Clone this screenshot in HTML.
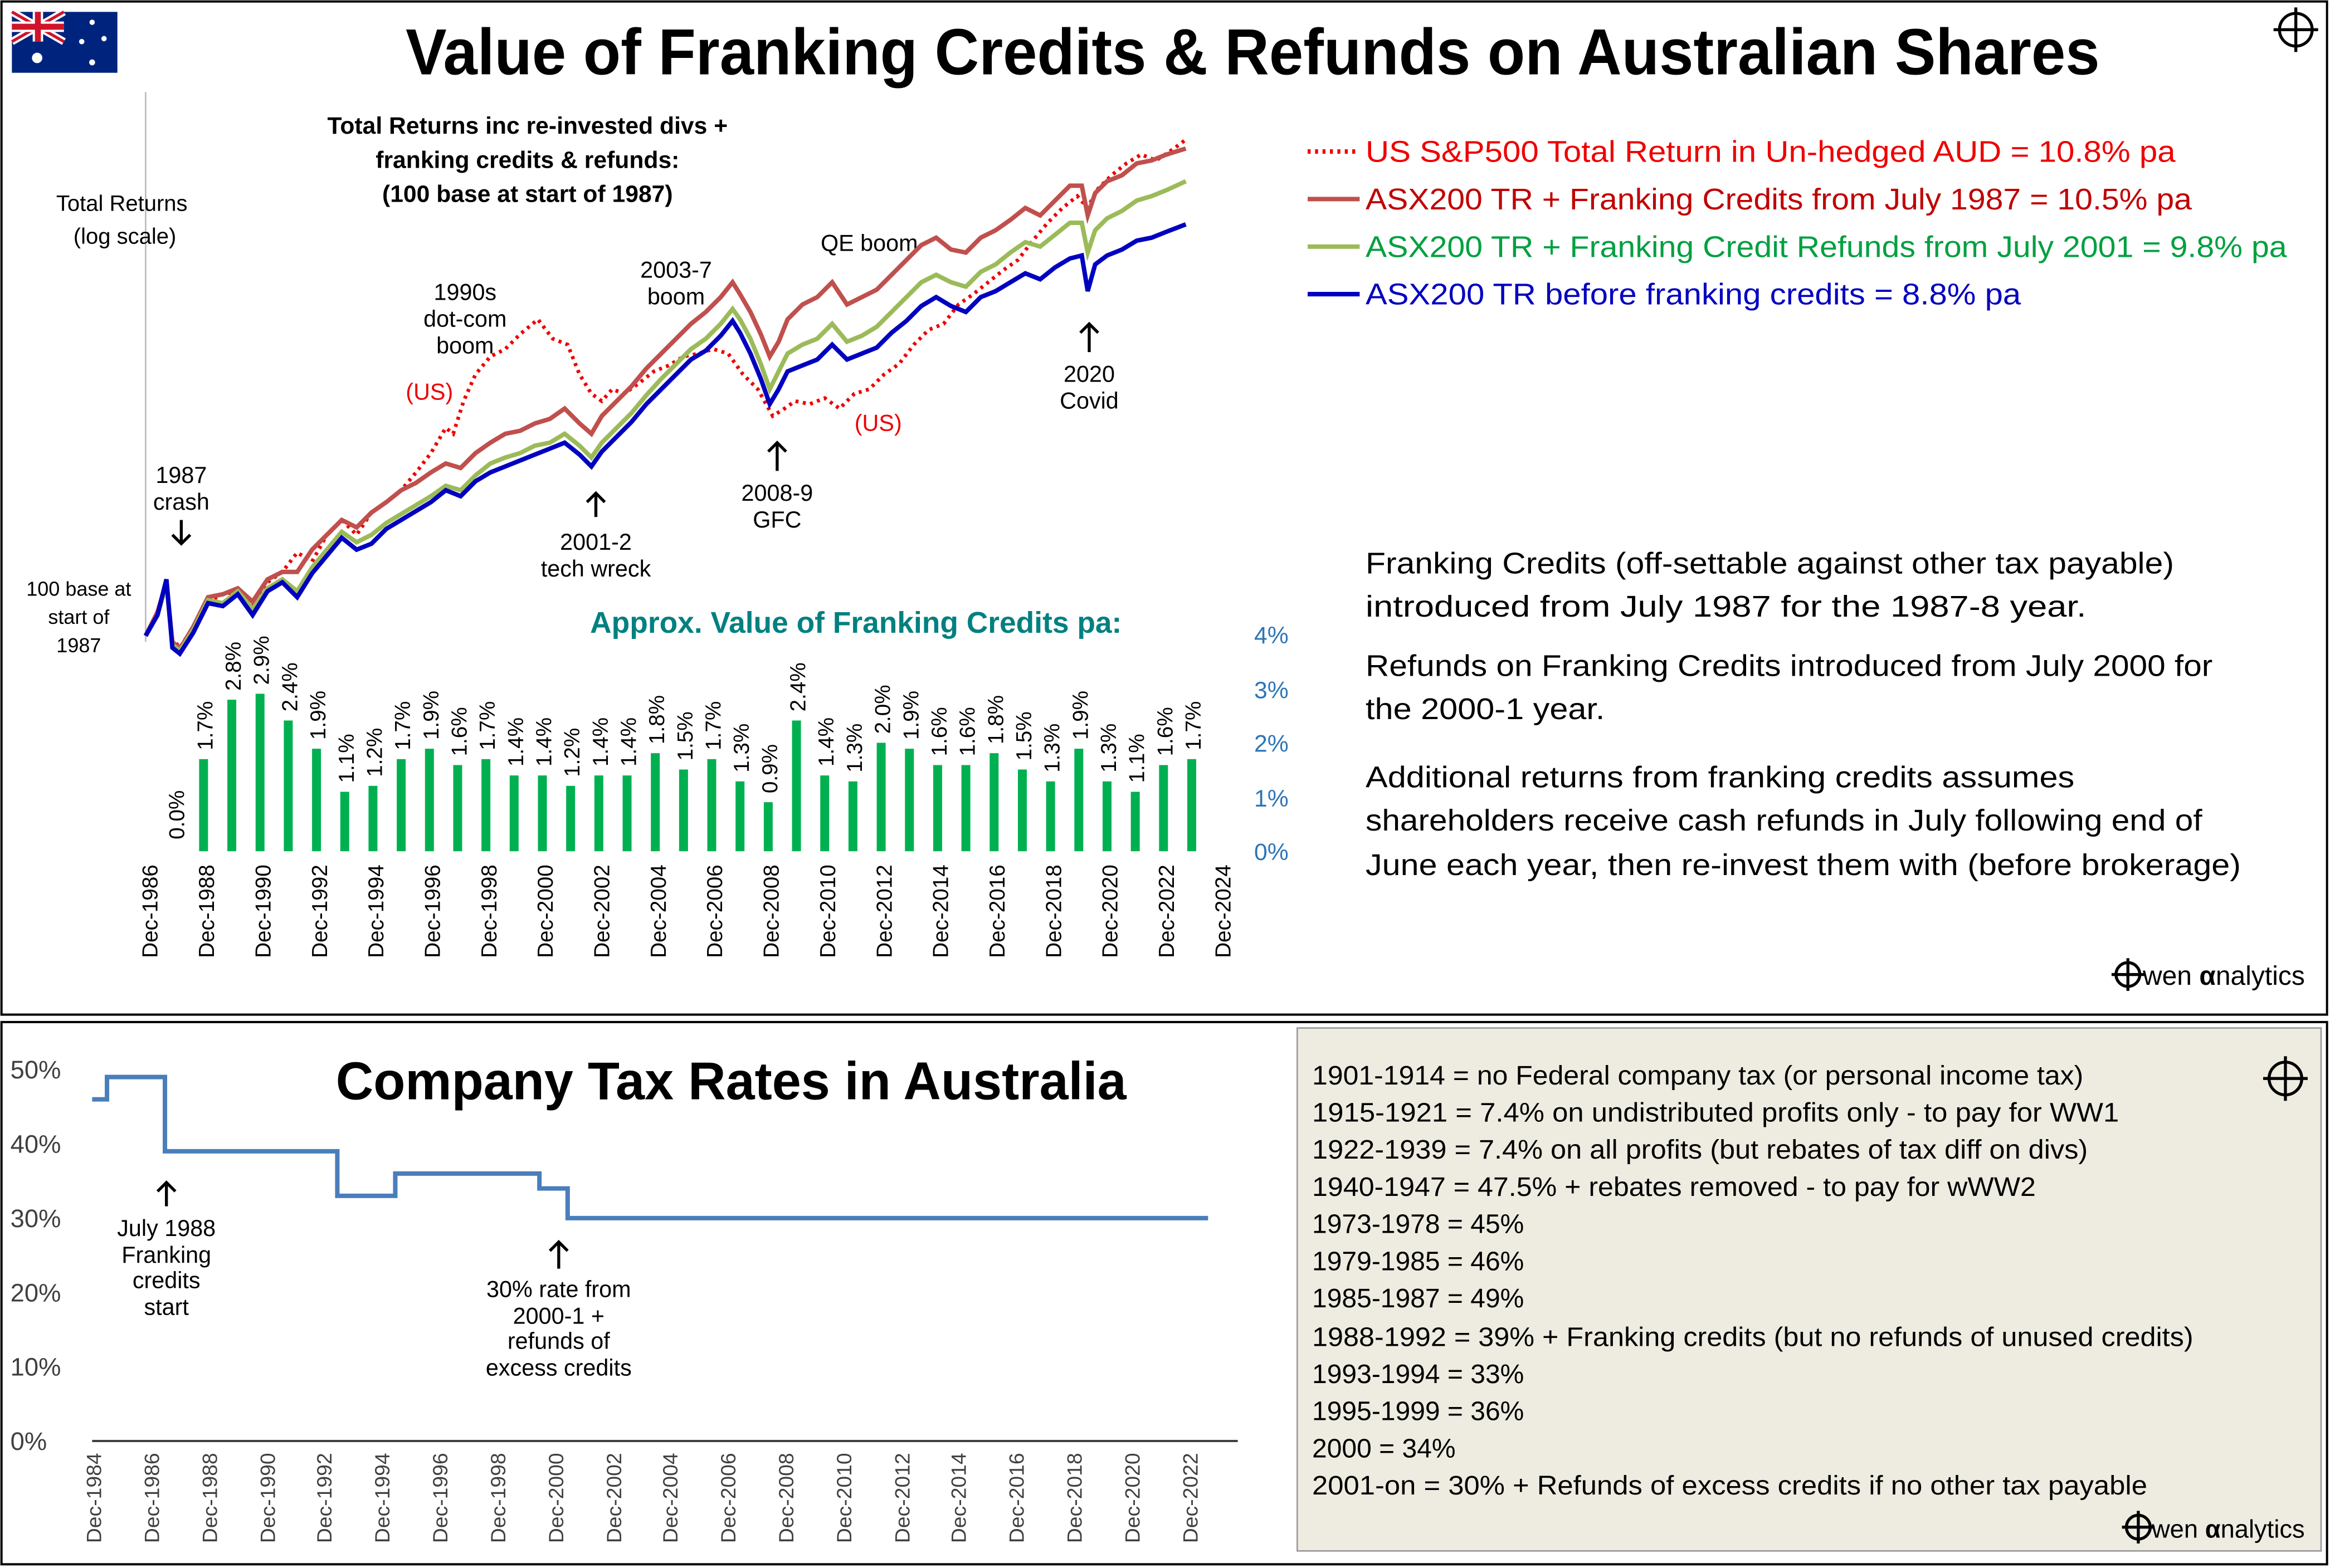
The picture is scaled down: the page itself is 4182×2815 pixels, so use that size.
<!DOCTYPE html>
<html><head><meta charset="utf-8"><style>
html,body{margin:0;padding:0;background:#fff}
svg{display:block}
text{font-family:"Liberation Sans",sans-serif}
</style></head><body>
<svg width="4182" height="2815" viewBox="0 0 1568 1055.5" preserveAspectRatio="none" xmlns="http://www.w3.org/2000/svg">
<rect x="0" y="0" width="1568" height="1056" fill="#fff"/>
<rect x="1" y="1" width="1565" height="682" fill="none" stroke="#000" stroke-width="1.5"/>
<rect x="1" y="688" width="1565" height="365" fill="none" stroke="#000" stroke-width="1.5"/>
<!-- flag -->
<g><rect x="8" y="8" width="71" height="41" fill="#00247d"/>
<path d="M8 8 L43 28 M43 8 L8 28" stroke="#fff" stroke-width="5"/>
<path d="M8 8 L43 28 M43 8 L8 28" stroke="#cf142b" stroke-width="2"/>
<path d="M25.5 8 V28 M8 18 H43" stroke="#fff" stroke-width="7"/>
<path d="M25.5 8 V28 M8 18 H43" stroke="#cf142b" stroke-width="4"/>
<circle cx="25" cy="39" r="3.5" fill="#fff"/><circle cx="62" cy="15" r="1.8" fill="#fff"/><circle cx="70" cy="26" r="1.8" fill="#fff"/><circle cx="55" cy="28" r="1.8" fill="#fff"/><circle cx="62" cy="42" r="2" fill="#fff"/></g>
<g fill="none" stroke="#000" stroke-width="2"><circle cx="1545" cy="20" r="11"/><path d="M1545 5 V35 M1530 20 H1560"/></g>
<g fill="none" stroke="#000" stroke-width="2"><circle cx="1538" cy="726" r="11"/><path d="M1538 711 V741 M1523 726 H1553"/></g>
<text x="843" y="50" font-size="44" font-weight="bold" text-anchor="middle" textLength="1140" lengthAdjust="spacingAndGlyphs">Value of Franking Credits &amp; Refunds on Australian Shares</text>

<!-- top chart axis -->
<line x1="98" y1="62" x2="98" y2="432" stroke="#bbb" stroke-width="1"/>
<g font-size="15" text-anchor="middle">
<text x="82" y="142">Total Returns</text><text x="84" y="164">(log scale)</text>
<text x="53" y="401" font-size="13.5">100 base at</text><text x="53" y="420" font-size="13.5">start of</text><text x="53" y="439" font-size="13.5">1987</text>
</g>
<g font-size="16" font-weight="bold" text-anchor="middle">
<text x="355" y="90">Total Returns inc re-invested divs +</text>
<text x="355" y="113">franking credits &amp; refunds:</text>
<text x="355" y="136">(100 base at start of 1987)</text>
</g>
<g font-size="15.5" text-anchor="middle">
<text x="313" y="202">1990s</text><text x="313" y="220">dot-com</text><text x="313" y="238">boom</text>
<text x="289" y="269" fill="#e00">(US)</text>
<text x="455" y="187">2003-7</text><text x="455" y="205">boom</text>
<text x="585" y="169">QE boom</text>
<text x="591" y="290" fill="#e00">(US)</text>
<text x="122" y="325">1987</text><text x="122" y="343">crash</text>
<text x="401" y="370">2001-2</text><text x="401" y="388">tech wreck</text>
<text x="523" y="337">2008-9</text><text x="523" y="355">GFC</text>
<text x="733" y="257">2020</text><text x="733" y="275">Covid</text>
</g>
<g stroke="#000" stroke-width="2" fill="none">
<path d="M122 350 V366 M116 360 L122 366 L128 360"/>
<path d="M401 348 V332 M395 338 L401 332 L407 338"/>
<path d="M523 317 V298 M517 304 L523 298 L529 304"/>
<path d="M733 237 V218 M727 224 L733 218 L739 224"/>
</g>

<!-- series -->
<polyline fill="none" stroke="#e00" stroke-width="2.5" stroke-dasharray="2,3" points="98,428 106,412 112,395 116,430 121,436 130,422 140,405 150,400 160,398 170,408 180,392 190,385 200,372 210,378 220,360 230,350 240,360 250,345 260,338 270,330 280,318 290,305 300,288 305,292 312,270 320,252 330,240 340,235 350,225 362,215 372,228 382,232 390,252 398,265 405,270 412,262 420,265 430,258 440,250 450,246 460,240 470,238 480,235 490,238 500,252 510,262 520,280 528,275 535,270 545,272 555,268 565,275 575,265 585,262 595,252 605,245 615,232 625,222 635,218 645,205 655,198 665,190 675,182 685,175 695,162 705,150 715,140 725,132 732,140 738,128 748,118 758,110 768,104 778,108 790,100 798,94"/>
<polyline fill="none" stroke="#c0504d" stroke-width="3" points="98,428 106,412 112,392 116,432 121,437 130,422 140,402 150,400 160,396 170,405 180,390 190,385 200,385 210,370 220,360 230,350 240,355 250,345 260,338 270,330 280,325 290,318 300,312 310,315 320,305 330,298 340,292 350,290 360,285 370,282 380,275 390,285 398,292 405,280 415,270 425,260 435,248 445,238 455,228 465,218 475,210 485,200 493,190 498,198 505,210 512,225 518,240 524,230 530,215 540,205 550,200 560,190 570,205 580,200 590,195 600,185 610,175 620,165 630,160 640,168 650,170 660,160 670,155 680,148 690,140 700,145 710,135 720,125 728,125 732,145 737,130 745,122 755,118 765,110 775,108 785,104 798,100"/>
<polyline fill="none" stroke="#9bbb59" stroke-width="3" points="98,428 106,414 112,393 116,434 121,438 130,424 140,404 150,406 160,398 170,410 180,396 190,390 200,398 210,382 220,370 230,358 240,365 250,360 260,352 270,346 280,340 290,334 300,327 310,330 320,320 330,312 340,308 350,305 360,300 370,298 380,292 390,300 398,308 405,298 415,288 425,278 435,266 445,255 455,245 465,235 475,228 485,218 493,208 498,215 505,228 512,245 518,262 524,250 530,238 540,232 550,228 560,218 570,230 580,226 590,220 600,210 610,200 620,190 630,185 640,190 650,193 660,183 670,178 680,170 690,163 700,166 710,158 720,150 728,150 732,170 737,155 745,147 755,142 765,135 775,132 785,128 798,122"/>
<polyline fill="none" stroke="#0000c0" stroke-width="3" points="98,428 106,414 112,390 116,436 121,440 130,426 140,406 150,408 160,400 170,414 180,398 190,392 200,402 210,386 220,374 230,362 240,370 250,366 260,356 270,350 280,344 290,338 300,330 310,334 320,324 330,318 340,314 350,310 360,306 370,302 380,298 390,306 398,314 405,304 415,294 425,284 435,272 445,262 455,252 465,242 475,236 485,226 493,216 498,224 505,238 512,255 518,272 524,262 530,250 540,246 550,242 560,232 570,242 580,238 590,234 600,224 610,216 620,206 630,200 640,206 650,210 660,200 670,196 680,190 690,184 700,188 710,180 720,174 728,172 732,196 737,178 745,172 755,168 765,162 775,160 785,156 798,151"/>

<!-- legend -->
<g stroke-width="3">
<line x1="880" y1="102" x2="915" y2="102" stroke="#e00" stroke-dasharray="2,3"/>
<line x1="880" y1="134" x2="915" y2="134" stroke="#c0504d"/>
<line x1="880" y1="166" x2="915" y2="166" stroke="#9bbb59"/>
<line x1="880" y1="198" x2="915" y2="198" stroke="#0000c0"/>
</g>
<g font-size="20">
<text x="919" y="109" fill="#e00" textLength="545" lengthAdjust="spacingAndGlyphs">US S&amp;P500 Total Return in Un-hedged AUD  =  10.8% pa</text>
<text x="919" y="141" fill="#c00000" textLength="556" lengthAdjust="spacingAndGlyphs">ASX200 TR + Franking Credits from July 1987  =  10.5% pa</text>
<text x="919" y="173" fill="#00a040" textLength="620" lengthAdjust="spacingAndGlyphs">ASX200 TR + Franking Credit Refunds from July 2001  =  9.8% pa</text>
<text x="919" y="205" fill="#0000c0" textLength="441" lengthAdjust="spacingAndGlyphs">ASX200 TR before franking credits  =  8.8% pa</text>
</g>
<g font-size="20">
<text x="919" y="386" textLength="544" lengthAdjust="spacingAndGlyphs">Franking Credits (off-settable against other tax payable)</text>
<text x="919" y="415" textLength="485" lengthAdjust="spacingAndGlyphs">introduced from July 1987 for the 1987-8 year.</text>
<text x="919" y="455" textLength="570" lengthAdjust="spacingAndGlyphs">Refunds on Franking Credits introduced from July 2000 for</text>
<text x="919" y="484" textLength="161" lengthAdjust="spacingAndGlyphs">the 2000-1 year.</text>
<text x="919" y="530" textLength="477" lengthAdjust="spacingAndGlyphs">Additional returns from franking credits assumes</text>
<text x="919" y="559" textLength="563" lengthAdjust="spacingAndGlyphs">shareholders receive cash refunds in July following end of</text>
<text x="919" y="589" textLength="589" lengthAdjust="spacingAndGlyphs">June each year, then re-invest them with (before brokerage)</text>
</g>
<g font-size="18"><circle cx="1432" cy="656" r="8" fill="none" stroke="#000" stroke-width="2"/><line x1="1432" y1="645" x2="1432" y2="667" stroke="#000" stroke-width="2"/><line x1="1421" y1="656" x2="1443" y2="656" stroke="#000" stroke-width="2"/><text x="1442" y="663">wen <tspan font-weight="bold">α</tspan>nalytics</text></g>

<!-- bars -->
<text x="576" y="426" font-size="20" font-weight="bold" fill="#008080" text-anchor="middle">Approx. Value of Franking Credits pa:</text>
<g font-size="16" fill="#2e75b6"><text x="844" y="433">4%</text><text x="844" y="470">3%</text><text x="844" y="506">2%</text><text x="844" y="543">1%</text><text x="844" y="579">0%</text></g>
<g id="bars"></g>
<g fill="#00b050">
<rect x="134" y="511" width="6" height="62"/><rect x="153" y="471" width="6" height="102"/><rect x="172" y="467" width="6" height="106"/><rect x="191" y="485" width="6" height="88"/><rect x="210" y="504" width="6" height="69"/><rect x="229" y="533" width="6" height="40"/><rect x="248" y="529" width="6" height="44"/><rect x="267" y="511" width="6" height="62"/><rect x="286" y="504" width="6" height="69"/><rect x="305" y="515" width="6" height="58"/><rect x="324" y="511" width="6" height="62"/><rect x="343" y="522" width="6" height="51"/><rect x="362" y="522" width="6" height="51"/><rect x="381" y="529" width="6" height="44"/><rect x="400" y="522" width="6" height="51"/><rect x="419" y="522" width="6" height="51"/><rect x="438" y="507" width="6" height="66"/><rect x="457" y="518" width="6" height="55"/><rect x="476" y="511" width="6" height="62"/><rect x="495" y="526" width="6" height="47"/><rect x="514" y="540" width="6" height="33"/><rect x="533" y="485" width="6" height="88"/><rect x="552" y="522" width="6" height="51"/><rect x="571" y="526" width="6" height="47"/><rect x="590" y="500" width="6" height="73"/><rect x="609" y="504" width="6" height="69"/><rect x="628" y="515" width="6" height="58"/><rect x="647" y="515" width="6" height="58"/><rect x="666" y="507" width="6" height="66"/><rect x="685" y="518" width="6" height="55"/><rect x="704" y="526" width="6" height="47"/><rect x="723" y="504" width="6" height="69"/><rect x="742" y="526" width="6" height="47"/><rect x="761" y="533" width="6" height="40"/><rect x="780" y="515" width="6" height="58"/><rect x="799" y="511" width="6" height="62"/>
</g>
<g font-size="14.5">
<text transform="translate(124,565) rotate(-90)">0.0%</text>
<text transform="translate(143,505) rotate(-90)">1.7%</text><text transform="translate(162,465) rotate(-90)">2.8%</text><text transform="translate(181,461) rotate(-90)">2.9%</text><text transform="translate(200,479) rotate(-90)">2.4%</text><text transform="translate(219,498) rotate(-90)">1.9%</text><text transform="translate(238,527) rotate(-90)">1.1%</text><text transform="translate(257,523) rotate(-90)">1.2%</text><text transform="translate(276,505) rotate(-90)">1.7%</text><text transform="translate(295,498) rotate(-90)">1.9%</text><text transform="translate(314,509) rotate(-90)">1.6%</text><text transform="translate(333,505) rotate(-90)">1.7%</text><text transform="translate(352,516) rotate(-90)">1.4%</text><text transform="translate(371,516) rotate(-90)">1.4%</text><text transform="translate(390,523) rotate(-90)">1.2%</text><text transform="translate(409,516) rotate(-90)">1.4%</text><text transform="translate(428,516) rotate(-90)">1.4%</text><text transform="translate(447,501) rotate(-90)">1.8%</text><text transform="translate(466,512) rotate(-90)">1.5%</text><text transform="translate(485,505) rotate(-90)">1.7%</text><text transform="translate(504,520) rotate(-90)">1.3%</text><text transform="translate(523,534) rotate(-90)">0.9%</text><text transform="translate(542,479) rotate(-90)">2.4%</text><text transform="translate(561,516) rotate(-90)">1.4%</text><text transform="translate(580,520) rotate(-90)">1.3%</text><text transform="translate(599,494) rotate(-90)">2.0%</text><text transform="translate(618,498) rotate(-90)">1.9%</text><text transform="translate(637,509) rotate(-90)">1.6%</text><text transform="translate(656,509) rotate(-90)">1.6%</text><text transform="translate(675,501) rotate(-90)">1.8%</text><text transform="translate(694,512) rotate(-90)">1.5%</text><text transform="translate(713,520) rotate(-90)">1.3%</text><text transform="translate(732,498) rotate(-90)">1.9%</text><text transform="translate(751,520) rotate(-90)">1.3%</text><text transform="translate(770,527) rotate(-90)">1.1%</text><text transform="translate(789,509) rotate(-90)">1.6%</text><text transform="translate(808,505) rotate(-90)">1.7%</text>
</g>
<g font-size="14.5" text-anchor="end">
<text transform="translate(106,582) rotate(-90)">Dec-1986</text><text transform="translate(144,582) rotate(-90)">Dec-1988</text><text transform="translate(182,582) rotate(-90)">Dec-1990</text><text transform="translate(220,582) rotate(-90)">Dec-1992</text><text transform="translate(258,582) rotate(-90)">Dec-1994</text><text transform="translate(296,582) rotate(-90)">Dec-1996</text><text transform="translate(334,582) rotate(-90)">Dec-1998</text><text transform="translate(372,582) rotate(-90)">Dec-2000</text><text transform="translate(410,582) rotate(-90)">Dec-2002</text><text transform="translate(448,582) rotate(-90)">Dec-2004</text><text transform="translate(486,582) rotate(-90)">Dec-2006</text><text transform="translate(524,582) rotate(-90)">Dec-2008</text><text transform="translate(562,582) rotate(-90)">Dec-2010</text><text transform="translate(600,582) rotate(-90)">Dec-2012</text><text transform="translate(638,582) rotate(-90)">Dec-2014</text><text transform="translate(676,582) rotate(-90)">Dec-2016</text><text transform="translate(714,582) rotate(-90)">Dec-2018</text><text transform="translate(752,582) rotate(-90)">Dec-2020</text><text transform="translate(790,582) rotate(-90)">Dec-2022</text><text transform="translate(828,582) rotate(-90)">Dec-2024</text>
</g>

<!-- bottom chart -->
<g font-size="17" fill="#404040"><text x="7" y="726">50%</text><text x="7" y="776">40%</text><text x="7" y="826">30%</text><text x="7" y="876">20%</text><text x="7" y="926">10%</text><text x="7" y="976">0%</text></g>
<line x1="62" y1="970" x2="833" y2="970" stroke="#404040" stroke-width="1.5"/>
<text x="492" y="740" font-size="36" font-weight="bold" text-anchor="middle" textLength="532" lengthAdjust="spacingAndGlyphs">Company Tax Rates in Australia</text>
<polyline fill="none" stroke="#4a7ebb" stroke-width="3" points="62,740 72,740 72,725 111,725 111,775 227,775 227,805 266,805 266,790 363,790 363,800 382,800 382,820 813,820"/>
<g stroke="#000" stroke-width="2" fill="none">
<path d="M112 812 V796 M106 802 L112 796 L118 802"/>
<path d="M376 854 V836 M370 842 L376 836 L382 842"/>
</g>
<g font-size="15.5" text-anchor="middle">
<text x="112" y="832">July 1988</text><text x="112" y="850">Franking</text><text x="112" y="867">credits</text><text x="112" y="885">start</text>
<text x="376" y="873">30% rate from</text><text x="376" y="891">2000-1 +</text><text x="376" y="908">refunds of</text><text x="376" y="926">excess credits</text>
</g>
<g font-size="14" fill="#404040" text-anchor="end">
<text transform="translate(68,978) rotate(-90)">Dec-1984</text><text transform="translate(107,978) rotate(-90)">Dec-1986</text><text transform="translate(146,978) rotate(-90)">Dec-1988</text><text transform="translate(185,978) rotate(-90)">Dec-1990</text><text transform="translate(223,978) rotate(-90)">Dec-1992</text><text transform="translate(262,978) rotate(-90)">Dec-1994</text><text transform="translate(301,978) rotate(-90)">Dec-1996</text><text transform="translate(340,978) rotate(-90)">Dec-1998</text><text transform="translate(379,978) rotate(-90)">Dec-2000</text><text transform="translate(418,978) rotate(-90)">Dec-2002</text><text transform="translate(456,978) rotate(-90)">Dec-2004</text><text transform="translate(495,978) rotate(-90)">Dec-2006</text><text transform="translate(534,978) rotate(-90)">Dec-2008</text><text transform="translate(573,978) rotate(-90)">Dec-2010</text><text transform="translate(612,978) rotate(-90)">Dec-2012</text><text transform="translate(650,978) rotate(-90)">Dec-2014</text><text transform="translate(689,978) rotate(-90)">Dec-2016</text><text transform="translate(728,978) rotate(-90)">Dec-2018</text><text transform="translate(767,978) rotate(-90)">Dec-2020</text><text transform="translate(806,978) rotate(-90)">Dec-2022</text>
</g>
<rect x="873" y="692" width="689" height="352" fill="#eeece1" stroke="#999" stroke-width="1"/>
<g fill="none" stroke="#000" stroke-width="2"><circle cx="1538" cy="726" r="11"/><path d="M1538 711 V741 M1523 726 H1553"/></g>
<g font-size="18">
<text x="883" y="730" textLength="519" lengthAdjust="spacingAndGlyphs">1901-1914 = no Federal company tax (or personal income tax)</text>
<text x="883" y="755" textLength="543" lengthAdjust="spacingAndGlyphs">1915-1921 = 7.4% on undistributed profits only - to pay for WW1</text>
<text x="883" y="780" textLength="522" lengthAdjust="spacingAndGlyphs">1922-1939 = 7.4% on all profits (but rebates of tax diff on divs)</text>
<text x="883" y="805" textLength="487" lengthAdjust="spacingAndGlyphs">1940-1947 = 47.5% + rebates removed - to pay for wWW2</text>
<text x="883" y="830">1973-1978 = 45%</text>
<text x="883" y="855">1979-1985 = 46%</text>
<text x="883" y="880">1985-1987 = 49%</text>
<text x="883" y="906" textLength="593" lengthAdjust="spacingAndGlyphs">1988-1992 = 39%  + Franking credits (but no refunds of unused credits)</text>
<text x="883" y="931">1993-1994 = 33%</text>
<text x="883" y="956">1995-1999 = 36%</text>
<text x="883" y="981">2000    = 34%</text>
<text x="883" y="1006" textLength="562" lengthAdjust="spacingAndGlyphs">2001-on   = 30%  + Refunds of excess credits if no other tax payable</text>
</g>
<g font-size="17"><circle cx="1439" cy="1028" r="8" fill="none" stroke="#000" stroke-width="2"/><line x1="1439" y1="1017" x2="1439" y2="1039" stroke="#000" stroke-width="2"/><line x1="1428" y1="1028" x2="1450" y2="1028" stroke="#000" stroke-width="2"/><text x="1448" y="1035">wen <tspan font-weight="bold">α</tspan>nalytics</text></g>
</svg>
</body></html>
